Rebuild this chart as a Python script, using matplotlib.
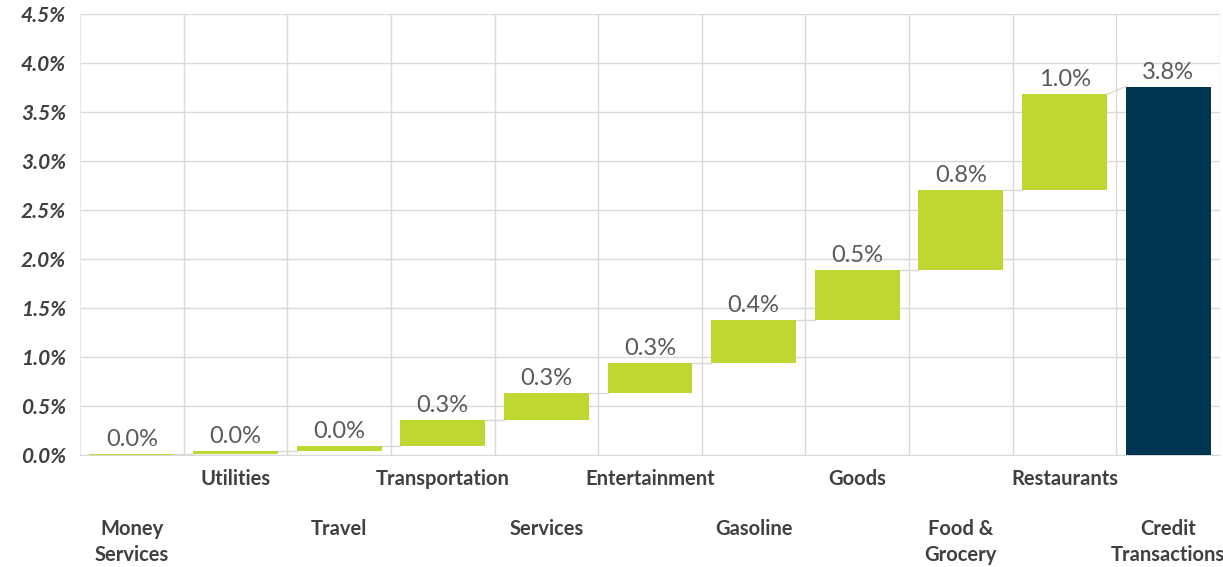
import matplotlib

matplotlib.use("Agg")
import matplotlib.pyplot as plt
import matplotlib.transforms as mtransforms
import numpy as np

# Contribution of each spending category to credit transaction growth (%)
categories = [
    "Money\nServices", "Utilities", "Travel", "Transportation", "Services",
    "Entertainment", "Gasoline", "Goods", "Food &\nGrocery", "Restaurants",
]
increments = [0.015, 0.03, 0.045, 0.27, 0.27, 0.31, 0.44, 0.51, 0.81, 0.98]
total_label = "Credit\nTransactions"
total_value = 3.76
yticks = [0.0, 0.5, 1.0, 1.5, 2.0, 2.5, 3.0, 3.5, 4.0, 4.5]

GREEN = "#BFD730"
NAVY = "#003652"
GRID = "#D9D9D9"
TEXT = "#404040"
LABEL = "#595959"
FONT = "Lato"

fig = plt.figure(figsize=(12.23, 5.67), dpi=100)
ax = fig.add_axes([80 / 1223, 1 - 455 / 567, 1140 / 1223, 441 / 567])

n = len(categories) + 1
x = np.arange(n)
width = 0.82
inc = np.array(increments)
tops = np.cumsum(inc)
bottoms = tops - inc

ax.bar(x[:-1], inc, bottom=bottoms, width=width, color=GREEN, zorder=3)
ax.bar(x[-1], total_value, width=width, color=NAVY, zorder=3)

# connectors between consecutive bars
starts = list(bottoms[1:]) + [total_value]
for i in range(n - 1):
    ax.plot([x[i] + width / 2, x[i + 1] - width / 2], [tops[i], starts[i]],
            color=GRID, lw=1, zorder=2)

# value labels above bars
for i, v in enumerate(increments):
    ax.text(x[i], tops[i] + 0.04, f"{v:.1f}%", ha="center", va="bottom",
            fontsize=17, color=LABEL, family=FONT)
ax.text(x[-1], total_value + 0.04, f"{total_value:.1f}%", ha="center", va="bottom",
        fontsize=17, color=LABEL, family=FONT)

ax.set_xlim(-0.5, n - 0.5)
ax.set_ylim(0, 4.5)
ax.set_yticks(yticks)
ax.set_yticklabels([f"{t:.1f}%" for t in yticks], fontsize=15, fontweight="bold",
                   fontstyle="italic", color=TEXT, family=FONT)
ax.tick_params(axis="y", length=0, pad=10)
ax.set_xticks([])

ax.grid(axis="y", color=GRID, lw=1, zorder=0)
for b in np.arange(n) + 0.5:
    ax.axvline(b, color=GRID, lw=1, zorder=0)

for side in ["top", "right"]:
    ax.spines[side].set_visible(False)
ax.spines["left"].set_color("#DDEBF7")
ax.spines["bottom"].set_color(GRID)

# staggered category labels
trans = mtransforms.blended_transform_factory(ax.transData, fig.transFigure)
labels = categories + [total_label]
for i, lab in enumerate(labels):
    if i % 2 == 1:
        ax.text(x[i], 1 - 479 / 567, lab, transform=trans, ha="center", va="center",
                fontsize=14.5, fontweight="bold", color=TEXT, family=FONT)
    else:
        ax.text(x[i], 1 - 519 / 567, lab, transform=trans, ha="center", va="top",
                fontsize=14.5, fontweight="bold", color=TEXT, family=FONT,
                linespacing=1.4)

fig.savefig("out.png", dpi=100)
